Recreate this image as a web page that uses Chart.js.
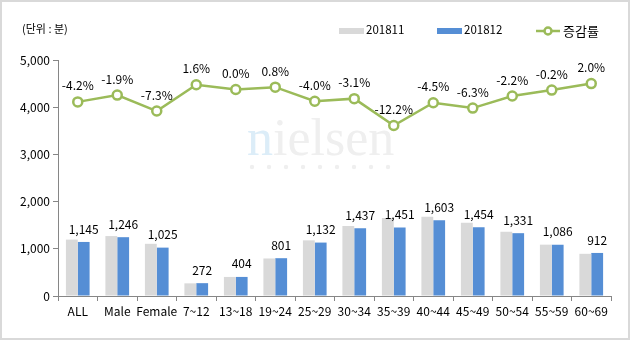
<!DOCTYPE html>
<html>
<head>
<meta charset="utf-8">
<script src="https://cdn.jsdelivr.net/npm/chart.js@4"></script>
<style>
    html, body { margin: 0; padding: 0; background: #fff; }
    #wrap {
        width: 630px;
        height: 340px;
        box-sizing: border-box;
        border: 2px solid #d9d9d9;
        position: relative;
    }
    #wrap canvas { display: block; }
</style>
</head>
<body>
<div id="wrap"><canvas id="chart" width="626" height="336"></canvas></div>
<script>
const categories = ["ALL", "Male", "Female", "7~12", "13~18", "19~24", "25~29",
    "30~34", "35~39", "40~44", "45~49", "50~54", "55~59", "60~69"];

const nov2018 = [1195, 1270, 1106, 268, 404, 795, 1179, 1483, 1653, 1679, 1552, 1361, 1088, 894];

const dec2018 = [1145, 1246, 1025, 272, 404, 801, 1132, 1437, 1451, 1603, 1454, 1331, 1086, 912];

const changeRate = [-4.2, -1.9, -7.3, 1.6, 0.0, 0.8, -4.0, -3.1, -12.2, -4.5, -6.3, -2.2, -0.2, 2.0];

const yTicks = [0, 1000, 2000, 3000, 4000, 5000];

const FONT = "'Noto Sans CJK KR', 'Liberation Sans', sans-serif";
const GRAY = "#d9d9d9";
const BLUE = "#558ed5";
const GREEN = "#9bbb59";
const AXIS = "#868686";

function fmt(v) {
    return v.toLocaleString("en-US");
}

// watermark, unit note and legend
const decorPlugin = {
    id: "decor",
    beforeDatasetsDraw(chart) {
        const ctx = chart.ctx;
        ctx.save();
        ctx.font = "52px 'Liberation Serif', serif";
        ctx.textBaseline = "alphabetic";
        ctx.textAlign = "left";
        ctx.fillStyle = "#dcedf8";
        ctx.fillText("n", 245, 153);
        const nw = ctx.measureText("n").width;
        ctx.fillStyle = "#efefef";
        ctx.fillText("ielsen", 245 + nw, 153);
        for (let i = 0; i < 9; i++) {
            ctx.beginPath();
            ctx.arc(250 + i * 17, 165, 2.2, 0, Math.PI * 2);
            ctx.fill();
        }
        ctx.restore();
    },
    afterDraw(chart) {
        const ctx = chart.ctx;
        ctx.save();
        ctx.fillStyle = "#000";
        ctx.textBaseline = "middle";
        ctx.textAlign = "left";
        ctx.font = "11px " + FONT;
        ctx.fillText("(단위 : 분)", 20, 27);

        ctx.font = "11.5px " + FONT;
        ctx.fillStyle = GRAY;
        ctx.fillRect(337, 26, 25, 6);
        ctx.fillStyle = BLUE;
        ctx.fillRect(435, 26, 25, 6);
        ctx.fillStyle = "#000";
        ctx.fillText("201811", 364, 28);
        ctx.fillText("201812", 462, 28);

        ctx.strokeStyle = GREEN;
        ctx.lineWidth = 2.5;
        ctx.beginPath();
        ctx.moveTo(534, 29);
        ctx.lineTo(558, 29);
        ctx.stroke();
        ctx.beginPath();
        ctx.arc(546, 29, 3.5, 0, Math.PI * 2);
        ctx.fillStyle = "#fff";
        ctx.fill();
        ctx.stroke();
        ctx.fillStyle = "#000";
        ctx.font = "13px " + FONT;
        ctx.fillText("증감률", 561, 29);
        ctx.restore();
    }
};

// value labels above blue bars and line points
const labelPlugin = {
    id: "valueLabels",
    afterDatasetsDraw(chart) {
        const ctx = chart.ctx;
        ctx.save();
        ctx.fillStyle = "#000";
        ctx.textAlign = "center";
        ctx.textBaseline = "middle";
        ctx.font = "12px " + FONT;

        const barMeta = chart.getDatasetMeta(1);
        barMeta.data.forEach((el, i) => {
            ctx.fillText(fmt(dec2018[i]), el.x, el.y - 13);
        });

        const lineMeta = chart.getDatasetMeta(2);
        lineMeta.data.forEach((el, i) => {
            ctx.fillText(changeRate[i].toFixed(1) + "%", el.x, el.y - 16);
        });
        ctx.restore();
    }
};

new Chart(
    document.getElementById("chart").getContext("2d"),
{
    data: {
        labels: categories,
        datasets: [
            {
                type: "bar",
                label: "201811",
                data: nov2018,
                backgroundColor: GRAY,
                yAxisID: "y",
                order: 2
            },
            {
                type: "bar",
                label: "201812",
                data: dec2018,
                backgroundColor: BLUE,
                yAxisID: "y",
                order: 2
            },
            {
                type: "line",
                label: "증감률",
                data: changeRate,
                borderColor: GREEN,
                borderWidth: 2.5,
                pointRadius: 4.5,
                pointBorderWidth: 2.5,
                pointBackgroundColor: "#fff",
                pointBorderColor: GREEN,
                tension: 0,
                yAxisID: "y1",
                order: 1
            }
        ]
    },
    options: {
        responsive: false,
        animation: false,
        layout: {
            padding: { top: 58, right: 17, bottom: 0, left: 0 }
        },
        datasets: {
            bar: {
                categoryPercentage: 0.6,
                barPercentage: 1.0
            }
        },
        plugins: {
            legend: { display: false },
            tooltip: { enabled: false }
        },
        scales: {
            x: {
                grid: {
                    offset: true,
                    drawOnChartArea: false,
                    drawTicks: true,
                    tickLength: 5,
                    color: AXIS
                },
                border: { color: AXIS, width: 1 },
                ticks: {
                    color: "#000",
                    font: { family: FONT, size: 12 },
                    padding: 3,
                    maxRotation: 0,
                    autoSkip: false
                },
                afterFit(scale) {
                    scale.height = 42;
                }
            },
            y: {
                min: 0,
                max: 5000,
                afterBuildTicks(scale) {
                    scale.ticks = yTicks.map(v => ({ value: v }));
                },
                grid: {
                    drawOnChartArea: false,
                    drawTicks: true,
                    tickLength: 5,
                    color: AXIS
                },
                border: { color: AXIS, width: 1 },
                ticks: {
                    color: "#000",
                    font: { family: FONT, size: 12 },
                    padding: 3,
                    callback: v => fmt(v)
                },
                afterFit(scale) {
                    scale.width = 56;
                }
            },
            y1: {
                display: false,
                min: -70,
                max: 10
            }
        }
    },
    plugins: [decorPlugin, labelPlugin]
});
</script>
</body>
</html>
